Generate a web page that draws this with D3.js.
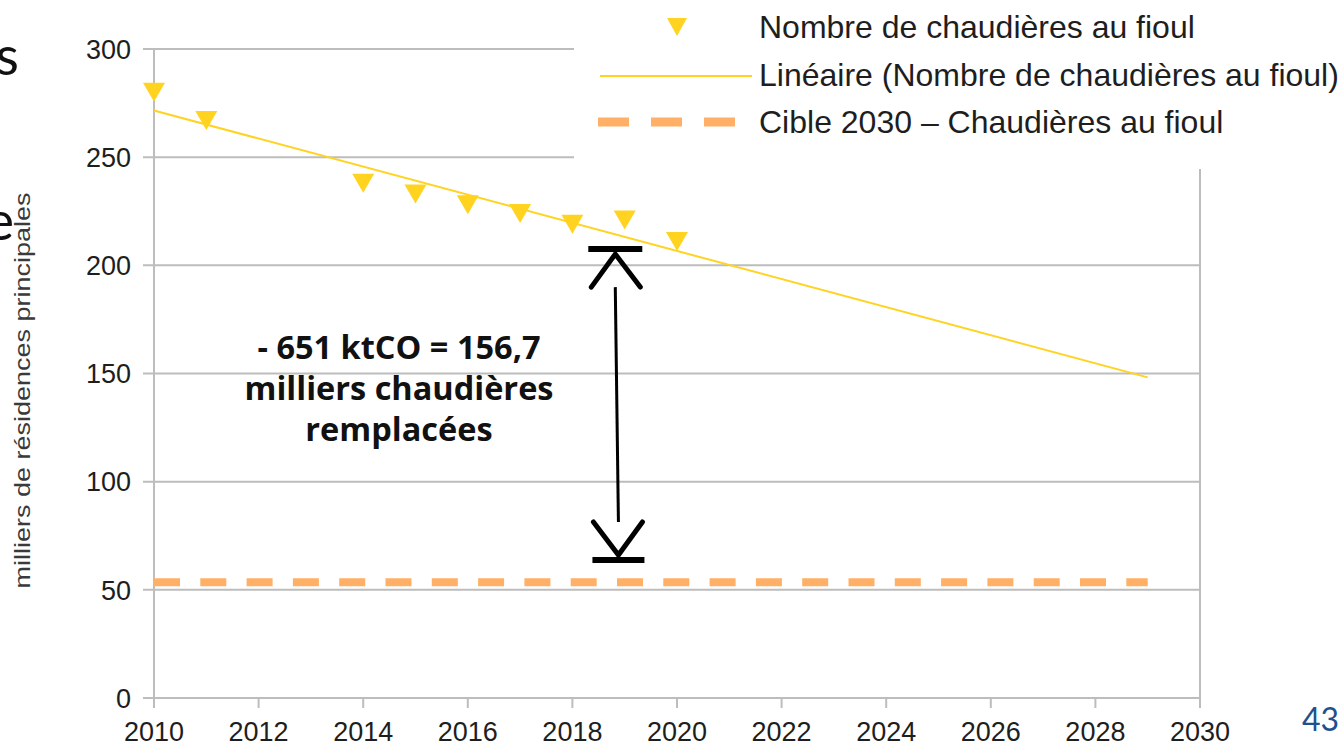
<!DOCTYPE html>
<html lang="fr">
<head>
<meta charset="utf-8">
<script src="https://cdn.jsdelivr.net/npm/d3@7"></script>
<style>
  html, body { margin: 0; padding: 0; background: #fff; }
  svg { display: block; }
</style>
</head>
<body>
<svg id="chart" width="1339" height="747"></svg>
<script>
// Observed number of oil boilers (thousands of main residences)
const years = [2010, 2011, 2014, 2015, 2016, 2017, 2018, 2019, 2020];
const boilers = [280, 267, 238, 233, 228, 224, 219, 221, 211];

// Linear trend endpoints
const trendYears = [2010, 2029];
const trendValues = [271.6, 148.2];

// 2030 target level
const targetYears = [2010, 2029];
const targetValues = [53.5, 53.5];

// Axis ticks
const xTicks = [2010, 2012, 2014, 2016, 2018, 2020, 2022, 2024, 2026, 2028, 2030];
const yTicks = [0, 50, 100, 150, 200, 250, 300];

// Legend entries
const legendLabels = [
  "Nombre de chaudières au fioul",
  "Linéaire (Nombre de chaudières au fioul)",
  "Cible 2030 – Chaudières au fioul"
];

// Gap annotation (year, top value, bottom value)
const arrowYears = [2018.82, 2018.88];
const arrowValues = [207.5, 63.8];
const annotationLines = ["- 651 ktCO = 156,7", "milliers chaudières", "remplacées"];

const YELLOW = "#ffd320";
const ORANGE = "#ffb066";
const GRID = "#bdbdbd";

const svg = d3.select("#chart");

const x = d3.scaleLinear().domain([2010, 2030]).range([154, 1200]);
const y = d3.scaleLinear().domain([0, 300]).range([698, 49]);

// Horizontal gridlines (with left tick stubs)
svg.append("g").selectAll("line").data(yTicks).join("line")
  .attr("x1", 143).attr("x2", x(2030))
  .attr("y1", d => y(d)).attr("y2", d => y(d))
  .attr("stroke", GRID).attr("stroke-width", 2);

// Vertical axis lines at both ends
svg.append("line")
  .attr("x1", x(2010)).attr("x2", x(2010))
  .attr("y1", y(300)).attr("y2", y(0) + 10)
  .attr("stroke", GRID).attr("stroke-width", 2);
svg.append("line")
  .attr("x1", x(2030)).attr("x2", x(2030))
  .attr("y1", y(300)).attr("y2", y(0) + 10)
  .attr("stroke", GRID).attr("stroke-width", 2);

// X ticks
svg.append("g").selectAll("line").data(xTicks).join("line")
  .attr("x1", d => x(d)).attr("x2", d => x(d))
  .attr("y1", y(0)).attr("y2", y(0) + 10)
  .attr("stroke", GRID).attr("stroke-width", 2);

// Tick labels
svg.append("g").selectAll("text").data(yTicks).join("text")
  .attr("x", 131).attr("y", d => y(d))
  .attr("dy", "0.36em")
  .attr("text-anchor", "end")
  .attr("font-family", "Liberation Sans, Arial, sans-serif")
  .attr("font-size", 27)
  .attr("fill", "#1e1e1e")
  .text(d => d);

svg.append("g").selectAll("text").data(xTicks).join("text")
  .attr("x", d => x(d)).attr("y", 741)
  .attr("text-anchor", "middle")
  .attr("font-family", "Liberation Sans, Arial, sans-serif")
  .attr("font-size", 27)
  .attr("fill", "#1e1e1e")
  .text(d => d);

// Y axis title (condensed glyphs)
svg.append("text")
  .attr("transform", `translate(30, ${y(150) + 17}) rotate(-90)`)
  .attr("text-anchor", "middle")
  .attr("font-family", "Liberation Sans, Arial, sans-serif")
  .attr("font-size", 21.5)
  .attr("textLength", 396)
  .attr("lengthAdjust", "spacingAndGlyphs")
  .attr("fill", "#3a3a3a")
  .text("milliers de résidences principales");

// Target dashed line
svg.append("line")
  .attr("x1", x(targetYears[0])).attr("x2", x(targetYears[1]))
  .attr("y1", y(targetValues[0])).attr("y2", y(targetValues[1]))
  .attr("stroke", ORANGE).attr("stroke-width", 8)
  .attr("stroke-dasharray", "26 20.3");

// Linear trend
const line = d3.line().x((d, i) => x(trendYears[i])).y(d => y(d));
svg.append("path")
  .attr("d", line(trendValues))
  .attr("fill", "none")
  .attr("stroke", YELLOW).attr("stroke-width", 2);

// Data markers (downward triangles)
const tri = "M-11,-9.5 L11,-9.5 L0,9.5 Z";
svg.append("g").selectAll("path").data(boilers).join("path")
  .attr("transform", (d, i) => `translate(${x(years[i])},${y(d)})`)
  .attr("d", tri)
  .attr("fill", YELLOW);

// Legend box
const lg = svg.append("g");
lg.append("rect").attr("x", 574).attr("y", 0).attr("width", 765).attr("height", 169).attr("fill", "#fff");
lg.append("path").attr("transform", "translate(677,27)").attr("d", "M-10,-9 L10,-9 L0,9 Z").attr("fill", YELLOW);
lg.append("line").attr("x1", 600).attr("x2", 752).attr("y1", 76).attr("y2", 76)
  .attr("stroke", YELLOW).attr("stroke-width", 2);
lg.append("line").attr("x1", 598).attr("x2", 737).attr("y1", 122).attr("y2", 122)
  .attr("stroke", ORANGE).attr("stroke-width", 9).attr("stroke-dasharray", "31 22");
lg.selectAll("text").data(legendLabels).join("text")
  .attr("x", 759).attr("y", (d, i) => 38 + i * 47.5)
  .attr("font-family", "Liberation Sans, Arial, sans-serif")
  .attr("font-size", 32)
  .attr("fill", "#1e1e1e")
  .text(d => d);

// Gap annotation arrow
const ax0 = x(arrowYears[0]), ax1 = x(arrowYears[1]);
const ay0 = y(arrowValues[0]), ay1 = y(arrowValues[1]);
const ann = svg.append("g").attr("stroke", "#000").attr("fill", "none");
ann.append("line").attr("x1", ax0 - 27).attr("x2", ax0 + 27).attr("y1", ay0).attr("y2", ay0).attr("stroke-width", 6);
ann.append("path").attr("d", `M${ax0 - 24},${ay0 + 38} L${ax0},${ay0 + 5} L${ax0 + 25},${ay0 + 38}`)
  .attr("stroke-width", 5).attr("stroke-linecap", "round").attr("stroke-linejoin", "miter");
ann.append("line").attr("x1", ax0).attr("x2", ax1).attr("y1", ay0 + 38).attr("y2", ay1 - 38).attr("stroke-width", 3);
ann.append("path").attr("d", `M${ax1 - 25},${ay1 - 38} L${ax1},${ay1 - 5} L${ax1 + 24},${ay1 - 38}`)
  .attr("stroke-width", 5).attr("stroke-linecap", "round").attr("stroke-linejoin", "miter");
ann.append("line").attr("x1", ax1 - 26).attr("x2", ax1 + 26).attr("y1", ay1).attr("y2", ay1).attr("stroke-width", 6);

svg.append("g").selectAll("text").data(annotationLines).join("text")
  .attr("x", 399).attr("y", (d, i) => 359 + i * 41)
  .attr("text-anchor", "middle")
  .attr("font-family", "Open Sans, sans-serif")
  .attr("font-weight", 700)
  .attr("font-size", 32.5)
  .attr("fill", "#111")
  .text(d => d);

// Slide fragments around the chart
svg.append("text").attr("x", 19).attr("y", 75).attr("text-anchor", "end")
  .attr("font-family", "Lato, sans-serif").attr("font-size", 54).attr("fill", "#111").text("s");
svg.append("text").attr("x", 14).attr("y", 240).attr("text-anchor", "end")
  .attr("font-family", "Lato, sans-serif").attr("font-size", 54).attr("fill", "#111").text("e");
svg.append("text").attr("x", 1302).attr("y", 731)
  .attr("font-family", "Lato, sans-serif").attr("font-size", 32).attr("fill", "#22508f").text("43");
</script>
</body>
</html>
